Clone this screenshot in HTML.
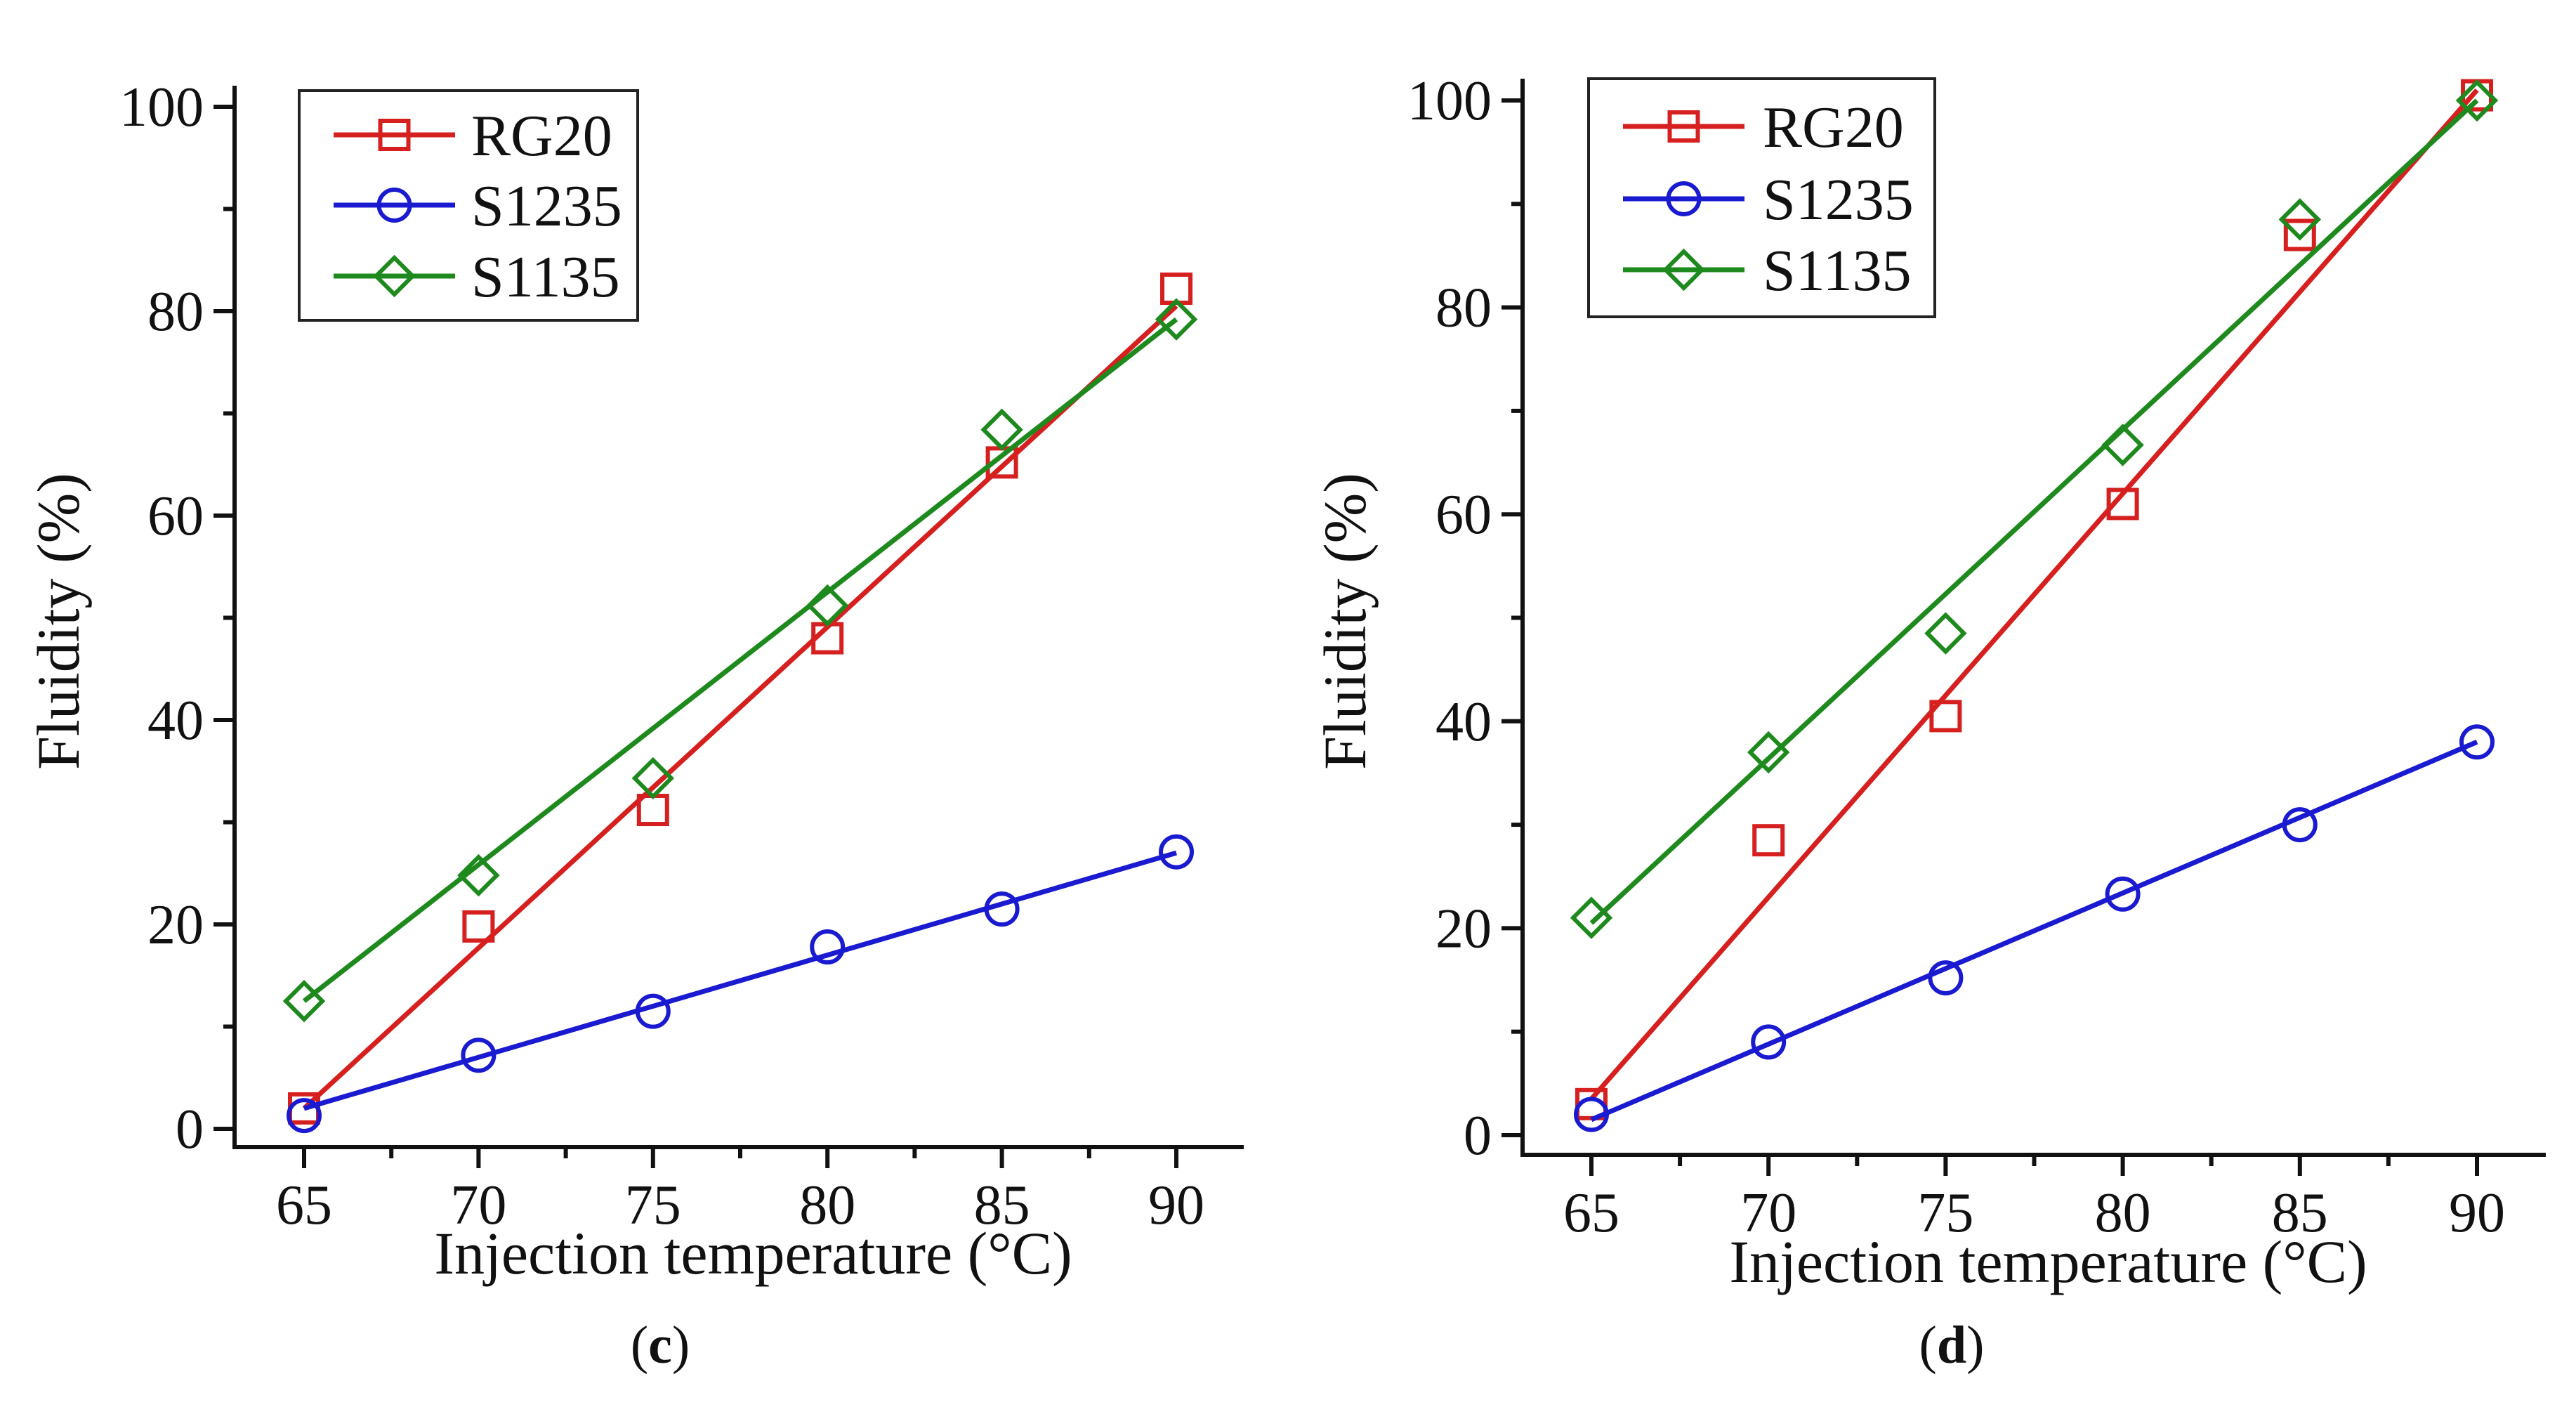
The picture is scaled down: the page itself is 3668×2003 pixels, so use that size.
<!DOCTYPE html>
<html><head><meta charset="utf-8"><style>
html,body{margin:0;padding:0;background:#fff;}
svg{display:block;font-family:"Liberation Serif",serif;}
</style></head><body>
<svg id="fig" width="3668" height="2003" viewBox="0 0 3668 2003" xmlns="http://www.w3.org/2000/svg"></svg>
<script>
const xCategories = [65, 70, 75, 80, 85, 90];
const xTickLabels = ['65','70','75','80','85','90'];
const yTickValues = [0, 20, 40, 60, 80, 100];
const seriesNames = ['RG20','S1235','S1135'];
// panel c
const cRG20 = [2, 19.8, 31.2, 48, 65.2, 82.2];
const cS1235 = [1.3, 7.2, 11.5, 17.8, 21.5, 27.1];
const cS1135 = [12.5, 24.8, 34.3, 51.2, 68.4, 79.2];
const cFitStart = [2, 2, 12.5];
const cFitEnd = [80.5, 27, 79.2];
// panel d
const dRG20 = [3, 28.5, 40.5, 61, 87, 100.5];
const dS1235 = [2, 9, 15.2, 23.3, 30, 38];
const dS1135 = [21, 37, 48.5, 66.7, 88.5, 100];
const dFitStart = [3.5, 1.5, 20.5];
const dFitEnd = [101, 38, 100];

const NS='http://www.w3.org/2000/svg';
const svg=document.getElementById('fig');
const colors=['#d62020','#1a1ad0','#1e8a1e'];
function mk(tag,attrs,parent){const e=document.createElementNS(NS,tag);for(const k in attrs)e.setAttribute(k,attrs[k]);(parent||svg).appendChild(e);return e;}

function marker(g,kind,cx,cy,col){
  const s=22;
  let e;
  if(kind===0){e=mk('rect',{x:cx-s+2,y:cy-s+2,width:2*s-4,height:2*s-4,fill:'none',stroke:col,'stroke-width':6},g);}
  else if(kind===1){e=mk('circle',{cx:cx,cy:cy,r:s,fill:'none',stroke:col,'stroke-width':6},g);}
  else{e=mk('polygon',{points:`${cx},${cy-s-4} ${cx+s+4},${cy} ${cx},${cy+s+4} ${cx-s-4},${cy}`,fill:'none',stroke:col,'stroke-width':6},g);}
  return e;
}

function panel(cfg){
  const g=mk('g',{});
  
  
  const X=v=>cfg.x0+(v-65)/25*(cfg.x1-cfg.x0);
  const Y=v=>cfg.y0+(v/100)*(cfg.y100-cfg.y0);
  const ax=mk('path',{d:`M${cfg.ax},${cfg.top} L${cfg.ax},${cfg.ay} L${cfg.right},${cfg.ay}`,fill:'none',stroke:'#111','stroke-width':6},g);
  
  
  for(let v=0;v<=100;v+=10){
    const major=v%20===0;
    mk('line',{x1:cfg.ax,x2:cfg.ax-(major?30:16),y1:Y(v),y2:Y(v),stroke:'#111','stroke-width':6},g);
  }
  yTickValues.forEach(v=>{
    const t=mk('text',{x:cfg.ax-44,y:Y(v)+27,'text-anchor':'end','font-size':80,fill:'#111'},g);
    t.textContent=String(v);
    
    
  });
  for(let v=65;v<=90.1;v+=2.5){
    const major=(v%5===0);
    mk('line',{x1:X(v),x2:X(v),y1:cfg.ay,y2:cfg.ay+(major?30:16),stroke:'#111','stroke-width':6},g);
  }
  xCategories.forEach((v,i)=>{
    const t=mk('text',{x:X(v),y:cfg.xly,'text-anchor':'middle','font-size':80,fill:'#111'},g);
    t.textContent=xTickLabels[i];
    
    
  });
  const xt=mk('text',{x:(cfg.ax+cfg.right)/2+20,y:cfg.xty,'text-anchor':'middle','font-size':86,fill:'#111'},g);
  xt.textContent='Injection temperature (°C)';
  
  
  const yt=mk('text',{x:0,y:0,'text-anchor':'middle','font-size':86,fill:'#111',transform:`translate(${cfg.ytx},${(cfg.y0+cfg.y100)/2+5}) rotate(-90)`},g);
  yt.textContent='Fluidity (%)';
  
  
  const cap=mk('text',{x:cfg.capx,y:cfg.capy,'text-anchor':'middle','font-size':76,fill:'#111'},g);
  cap.innerHTML='(<tspan font-weight="bold">'+cfg.letter+'</tspan>)';
  
  
  cfg.series.forEach((arr,k)=>{
    const col=colors[k];
    const sg=mk('g',{},g);
    
    
    const fl=mk('line',{x1:X(xCategories[0]),y1:Y(cfg.fs[k]),x2:X(xCategories[xCategories.length-1]),y2:Y(cfg.fe[k]),stroke:col,'stroke-width':7},sg);
    
    
    arr.forEach((v,i)=>{
      const m=marker(sg,k,X(xCategories[i]),Y(v),col);
      
      
    });
  });
  const lg=mk('g',{},g);
  
  
  mk('rect',{x:cfg.lx,y:cfg.ly,width:cfg.lw,height:cfg.lh,fill:'#fff',stroke:'#222','stroke-width':4},lg);
  seriesNames.forEach((n,k)=>{
    const yy=cfg.ley[k];
    const le=mk('g',{},lg);
    
    
    mk('line',{x1:cfg.l1,x2:cfg.l2,y1:yy,y2:yy,stroke:colors[k],'stroke-width':7},le);
    marker(le,k,(cfg.l1+cfg.l2)/2,yy,colors[k]);
    const t=mk('text',{x:cfg.ltx,y:yy+29,'font-size':84,fill:'#111'},le);
    t.textContent=n;
  });
}

panel({name:'panel-c',letter:'c',x0:433,x1:1675,y0:1607,y100:152,ax:334,ay:1633,top:122,right:1771,
  xly:1742,xty:1813,ytx:112,capx:940,capy:1940,
  series:[cRG20,cS1235,cS1135],fs:cFitStart,fe:cFitEnd,
  lx:426,ly:129,lw:482,lh:327,ley:[192,292,393],l1:475,l2:648,ltx:671});
panel({name:'panel-d',letter:'d',x0:2266,x1:3527,y0:1616,y100:143,ax:2168,ay:1644,top:112,right:3625,
  xly:1753,xty:1825,ytx:1944,capx:2779,capy:1940,
  series:[dRG20,dS1235,dS1135],fs:dFitStart,fe:dFitEnd,
  lx:2262,ly:112,lw:493,lh:339,ley:[180,283,384],l1:2311,l2:2484,ltx:2510});
</script>
</body></html>
